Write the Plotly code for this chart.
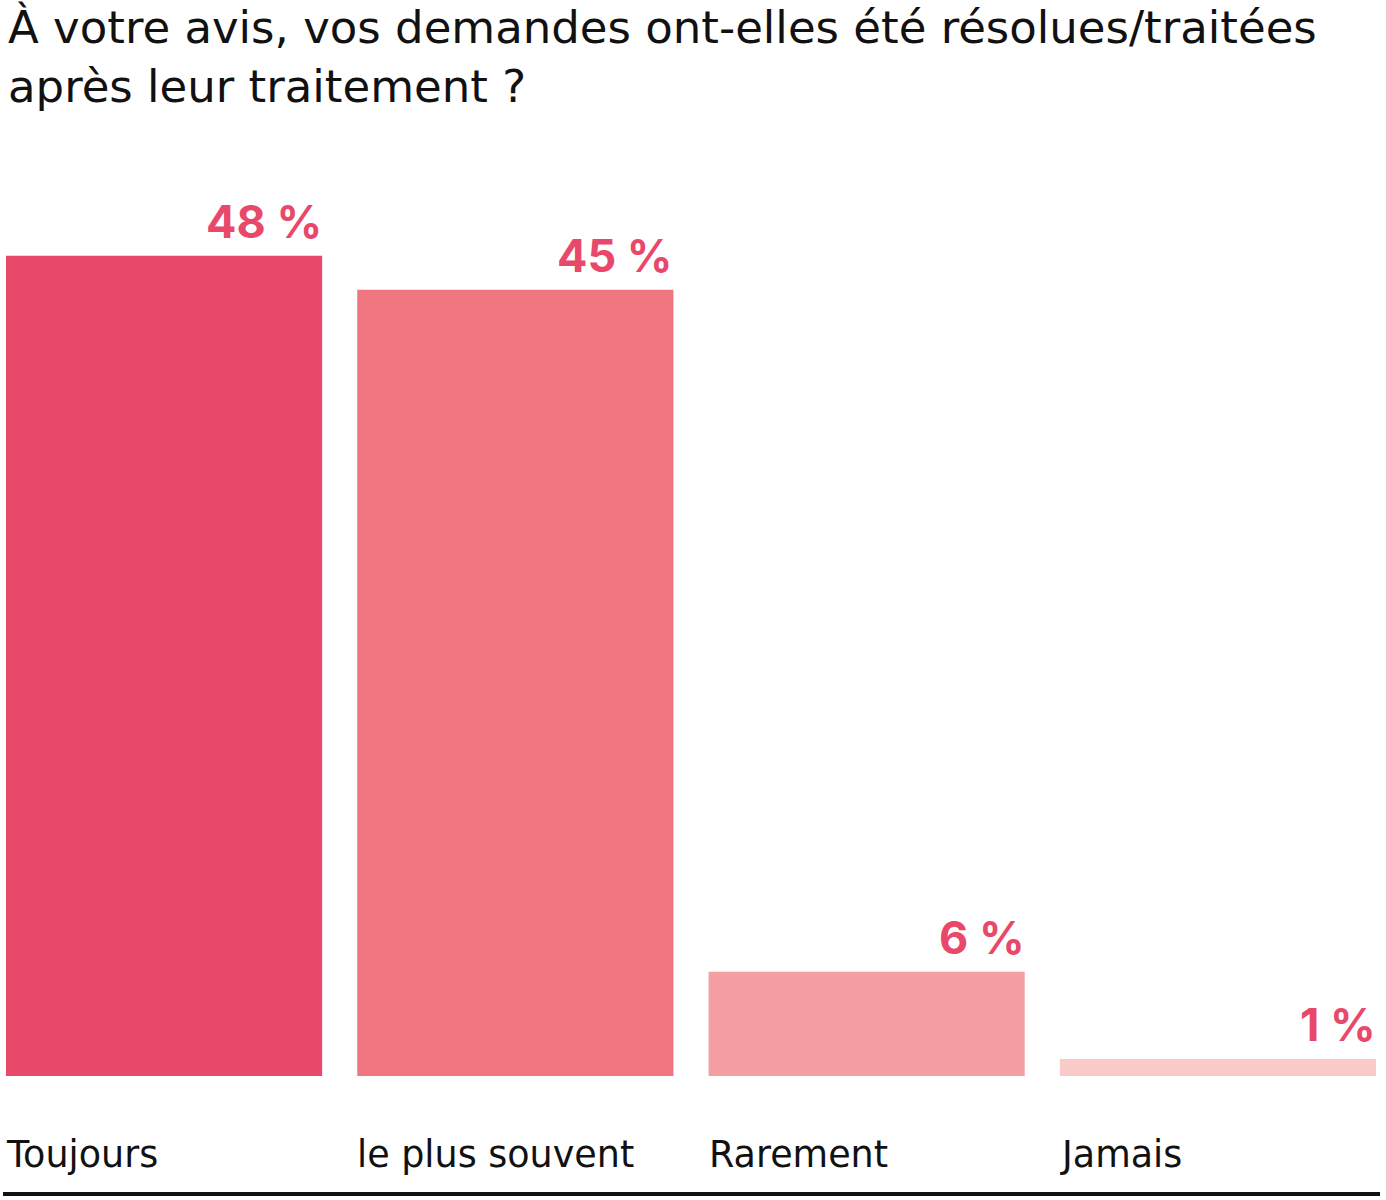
import plotly.graph_objects as go

categories = ["Toujours", "le plus souvent", "Rarement", "Jamais"]
bar_values = [48, 46, 6.1, 1]          # bar heights as drawn in the picture
value_labels = ["48 %", "45 %", "6 %", "1 %"]
colors = ["#E8496A", "#EF7580", "#F4A0A2", "#F8CBC9"]
title_text = "À votre avis, vos demandes ont-elles été résolues/traitées<br>après leur traitement ?"

W, H = 1386, 1200
ml, mr, mt, mb = 6, 10, 136, 124
plot_h = H - mt - mb

x = list(range(len(categories)))
fig = go.Figure(go.Bar(x=x, y=bar_values, marker=dict(color=colors, line=dict(width=0)),
                       width=0.9, hoverinfo="skip"))

ann = []
for i, (v, lab) in enumerate(zip(bar_values, value_labels)):
    ann.append(dict(x=i + 0.45, y=v, xref="x", yref="y", text=lab, showarrow=False,
                    xanchor="right", yanchor="bottom", yshift=5, xshift=2,
                    font=dict(family="Inter", size=45, color="#E8496A", weight=700)))
    ann.append(dict(x=i - 0.45, y=0, xref="x", yref="paper", text=categories[i], showarrow=False,
                    xanchor="left", yanchor="middle", yshift=-78, xshift=-2,
                    font=dict(family="DejaVu Sans", size=36.5, color="#111111")))
ann.append(dict(x=0, y=1 + (mt + 1) / plot_h, xref="paper", yref="paper", text=title_text,
                showarrow=False, xanchor="left", yanchor="top", align="left",
                font=dict(family="DejaVu Sans", size=45, color="#111111")))

fig.update_layout(
    width=W, height=H,
    margin=dict(l=ml, r=mr, t=mt, b=mb),
    paper_bgcolor="white", plot_bgcolor="white",
    showlegend=False,
    xaxis=dict(range=[-0.45, 3.45], showticklabels=False, showgrid=False, zeroline=False,
               showline=False, ticks=""),
    yaxis=dict(range=[0, 55], showticklabels=False, showgrid=False, zeroline=False,
               showline=False, ticks=""),
    annotations=ann,
    shapes=[dict(type="line", xref="paper", yref="paper",
                 x0=-3 / 1370, x1=1 + 4 / 1370,
                 y0=-118 / plot_h, y1=-118 / plot_h,
                 line=dict(color="#111111", width=4))],
)

fig.write_html("out.html", config={"displayModeBar": False},
               post_script="document.body.style.margin='0px';")
